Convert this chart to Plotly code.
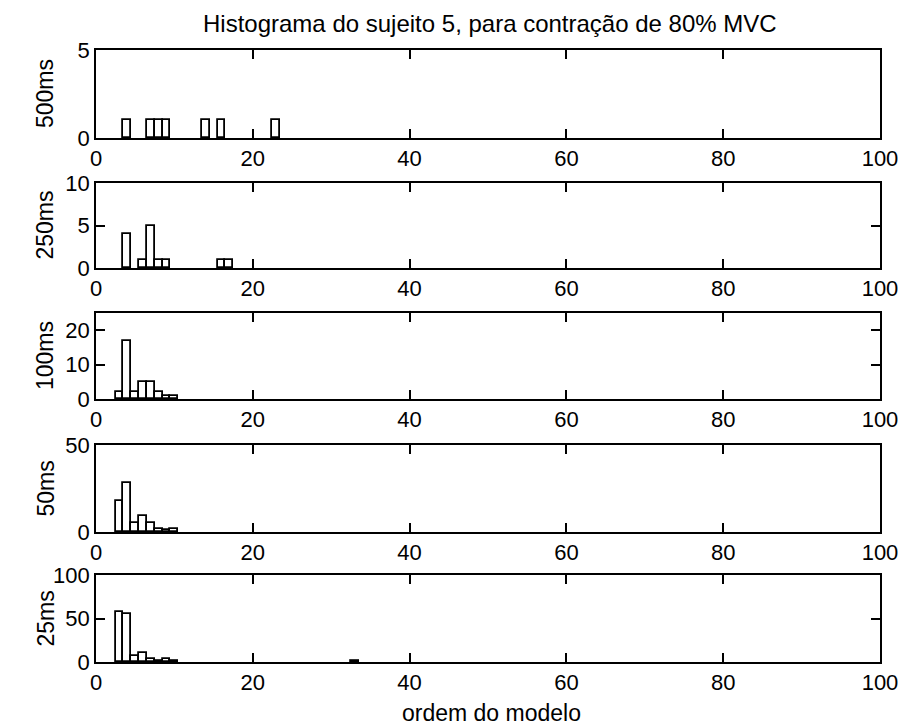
import plotly.graph_objects as go

# Histogram counts of the selected model order, one panel per window length
window_labels = ["500ms", "250ms", "100ms", "50ms", "25ms"]

orders_500 = [4, 7, 8, 9, 14, 16, 23]
counts_500 = [1, 1, 1, 1, 1, 1, 1]

orders_250 = [4, 6, 7, 8, 9, 16, 17]
counts_250 = [4, 1, 5, 1, 1, 1, 1]

orders_100 = [3, 4, 5, 6, 7, 8, 9, 10]
counts_100 = [2, 17, 2, 5, 5, 2, 1, 1]

orders_50 = [3, 4, 5, 6, 7, 8, 9, 10]
counts_50 = [18, 28, 5, 9, 5, 2, 1, 2]

orders_25 = [3, 4, 5, 6, 7, 8, 9, 10, 33]
counts_25 = [58, 55, 7, 10, 4, 1, 3, 1, 1]

y_max = [5, 10, 25, 50, 100]
y_ticks = [[0, 5], [0, 5, 10], [0, 10, 20], [0, 50], [0, 50, 100]]
x_ticks = [0, 20, 40, 60, 80, 100]

title_text = "Histograma do sujeito 5, para contração de 80% MVC"
x_title = "ordem do modelo"

series = [
    (orders_500, counts_500),
    (orders_250, counts_250),
    (orders_100, counts_100),
    (orders_50, counts_50),
    (orders_25, counts_25),
]

W, H = 903, 726
plot_left, plot_right = 96, 880
# top / bottom pixel rows of each panel
panel_rows = [(50, 138), (183, 268), (313, 399), (445, 532), (575, 662)]

FONT = "Liberation Sans, Arial, sans-serif"
TICK_SIZE = 22
fig = go.Figure()
layout = dict(
    width=W, height=H,
    margin=dict(l=0, r=0, t=0, b=0, autoexpand=False),
    paper_bgcolor="white", plot_bgcolor="white",
    showlegend=False,
    font=dict(family=FONT, size=TICK_SIZE, color="black"),
    bargap=0,
)

annotations = []
for i, ((xs, ys), (top, bot)) in enumerate(zip(series, panel_rows)):
    n = i + 1
    xa = "x" if n == 1 else f"x{n}"
    ya = "y" if n == 1 else f"y{n}"
    fig.add_trace(go.Bar(
        x=xs, y=ys, width=1,
        marker=dict(color="white", line=dict(color="black", width=1.8)),
        xaxis=xa, yaxis=ya,
        hoverinfo="x+y",
    ))
    key_x = "xaxis" if n == 1 else f"xaxis{n}"
    key_y = "yaxis" if n == 1 else f"yaxis{n}"
    layout[key_x] = dict(
        domain=[plot_left / W, plot_right / W],
        anchor=ya, range=[0, 100], automargin=False,
        tickvals=x_ticks, ticks="inside", ticklen=9, tickwidth=1.5,
        tickcolor="black", showline=True, linecolor="black", linewidth=1.6,
        mirror="ticks", showgrid=False, zeroline=False,
        tickfont=dict(family=FONT, size=TICK_SIZE, color="black"),
    )
    layout[key_y] = dict(
        domain=[1 - bot / H, 1 - top / H],
        anchor=xa, range=[0, y_max[i]], automargin=False,
        tickvals=y_ticks[i], ticks="inside", ticklen=9, tickwidth=1.5,
        tickcolor="black", showline=True, linecolor="black", linewidth=1.6,
        mirror="ticks", showgrid=False, zeroline=False,
        tickfont=dict(family=FONT, size=TICK_SIZE, color="black"),
    )
    annotations.append(dict(
        text=window_labels[i], xref="paper", yref="paper",
        x=45 / W, y=1 - (top + bot) / 2 / H,
        textangle=-90, showarrow=False,
        font=dict(family=FONT, size=23, color="black"),
        xanchor="center", yanchor="middle",
    ))

annotations.append(dict(
    text=title_text, xref="paper", yref="paper",
    x=490 / W, y=1 - 23 / H, showarrow=False,
    font=dict(family=FONT, size=24, color="black"),
    xanchor="center", yanchor="middle",
))
annotations.append(dict(
    text=x_title, xref="paper", yref="paper",
    x=491 / W, y=1 - 713 / H, showarrow=False,
    font=dict(family=FONT, size=23, color="black"),
    xanchor="center", yanchor="middle",
))
layout["annotations"] = annotations

fig.update_layout(**layout)
fig.write_html("out.html")
